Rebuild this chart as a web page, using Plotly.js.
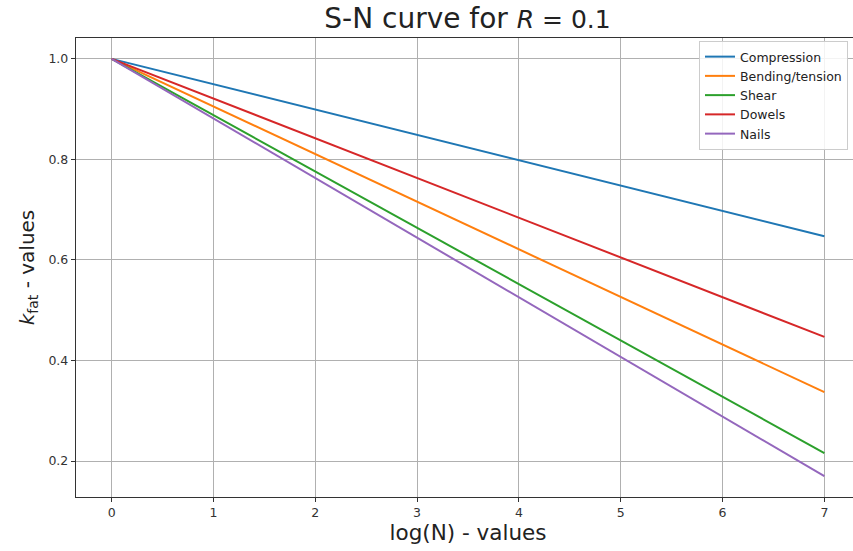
<!DOCTYPE html>
<html>
<head>
<meta charset="utf-8">
<script src="https://cdn.plot.ly/plotly-3.0.1.min.js"></script>
<style>
html,body{margin:0;padding:0;overflow:hidden;background:#fff;width:853px;height:551px;}
#chart{width:900px;height:551px;}
</style>
</head>
<body>
<div id="chart"></div>
<script>
// log(N) endpoints of each straight line
const logN = [0, 7];
const seriesNames = ["Compression", "Bending/tension", "Shear", "Dowels", "Nails"];
const compression = [1.0, 0.647];
const bendingTension = [1.0, 0.337];
const shear = [1.0, 0.216];
const dowels = [1.0, 0.447];
const nails = [1.0, 0.170];
const colors = ["#1f77b4", "#ff7f0e", "#2ca02c", "#d62728", "#9467bd"];
const xTicks = [0, 1, 2, 3, 4, 5, 6, 7];
const yTicks = [0.2, 0.4, 0.6, 0.8, 1.0];
const yTickText = ["0.2", "0.4", "0.6", "0.8", "1.0"];

const values = [compression, bendingTension, shear, dowels, nails];
const traces = values.map((v, i) => ({
  x: logN, y: v, type: "scatter", mode: "lines", name: seriesNames[i],
  line: {color: colors[i], width: 2}
}));

const axisCommon = {
  showline: true, linecolor: "#333", linewidth: 1.2,
  ticks: "outside", ticklen: 4, tickcolor: "#333",
  showgrid: true, gridcolor: "#b0b0b0", gridwidth: 1, zeroline: false,
  tickfont: {size: 12.5, color: "#333", family: "DejaVu Sans"}
};

const layout = {
  width: 900, height: 551,
  margin: {l: 76, r: 40, t: 38, b: 54},
  paper_bgcolor: "#fff", plot_bgcolor: "#fff",
  font: {family: "DejaVu Sans", color: "#222"},
  title: {text: "<span style=\"font-size:28px\">S-N curve for </span><i>R</i> = 0.1", x: 467.5 / 900, xref: "container", xanchor: "center",
          y: 1 - 19 / 551, yref: "container", yanchor: "middle",
          font: {size: 25, color: "#222", family: "DejaVu Sans"}},
  xaxis: Object.assign({}, axisCommon, {
    mirror: true,
    range: [-0.35, 7.35], tickvals: xTicks,
    title: {text: "log(N) - values", font: {size: 21.5, color: "#222"}, standoff: 3}
  }),
  yaxis: Object.assign({}, axisCommon, {
    mirror: false,
    range: [0.1285, 1.0415], tickvals: yTicks, ticktext: yTickText,
    title: {text: "<i>k</i><sub>fat</sub> - values", font: {size: 20, color: "#222"}, standoff: 8}
  }),
  legend: {
    x: (848 - 76) / 784, xanchor: "right", y: 1 - 3 / 459, yanchor: "top",
    bgcolor: "rgba(255,255,255,0.85)", bordercolor: "#cccccc", borderwidth: 1,
    font: {size: 12.5, color: "#222", family: "DejaVu Sans"},
    tracegroupgap: 0, itemwidth: 30
  },
  showlegend: true
};

Plotly.newPlot("chart", traces, layout, {displayModeBar: false, staticPlot: true});
</script>
</body>
</html>
